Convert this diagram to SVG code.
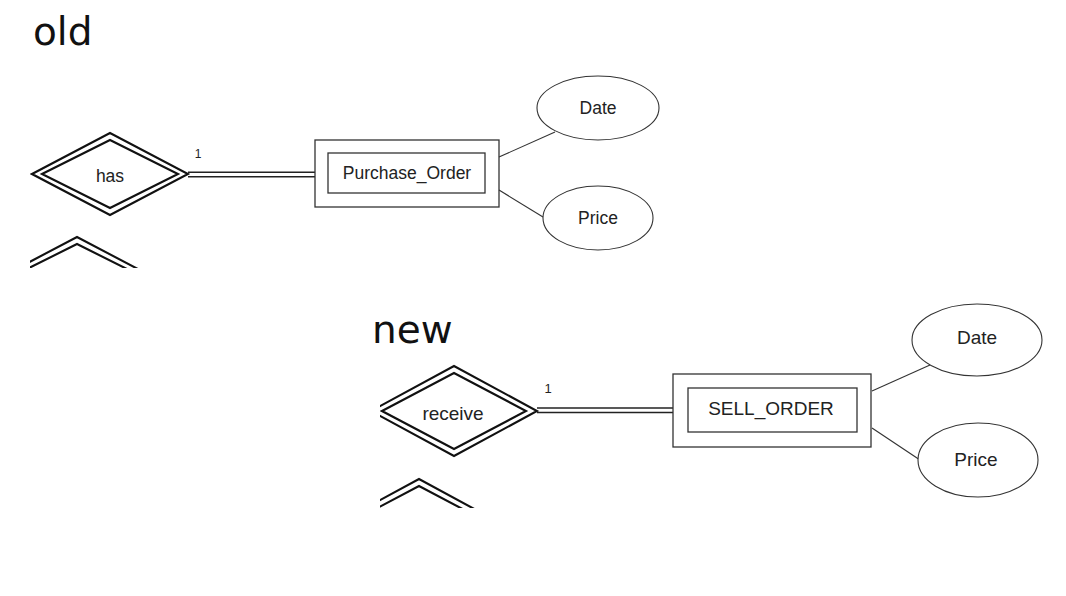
<svg xmlns="http://www.w3.org/2000/svg" width="1066" height="596" viewBox="0 0 1066 596">
<style>
.title{font-family:"DejaVu Sans",Verdana,sans-serif;font-size:39px;fill:#111}
.lbl{font-family:"Liberation Sans",Arial,sans-serif;fill:#222;text-anchor:middle}
.o{font-size:17.5px}
.n{font-size:19px}
.dia{fill:none;stroke:#111;stroke-width:2.1;stroke-linejoin:miter}
.box{fill:none;stroke:#333;stroke-width:1.3}
.ell{fill:#fff;stroke:#333;stroke-width:1.1}
.ln{fill:none;stroke:#333;stroke-width:1.1}
.dl{fill:none;stroke:#222;stroke-width:1.4}
</style>
<defs>
<clipPath id="clipOld"><rect x="30" y="70" width="630" height="198"/></clipPath>
<clipPath id="clipNew"><rect x="380" y="300" width="663" height="208"/></clipPath>
</defs>
<rect width="1066" height="596" fill="#fff"/>
<text class="title" x="33" y="45">old</text>
<text class="title" x="372" y="343">new</text>

<g clip-path="url(#clipOld)">
<g id="connectors-old">
<line class="dl" x1="188" y1="172.3" x2="315" y2="172.3"/>
<line class="dl" x1="188" y1="176.7" x2="315" y2="176.7"/>
<line class="ln" x1="499" y1="157" x2="555" y2="132"/>
<line class="ln" x1="499" y1="190" x2="543" y2="217"/>
<text class="lbl" x="198" y="158" font-size="12">1</text>
</g>
<g id="old-has">
<polygon class="dia" points="32,174 110,133 188,174 110,215"/>
<polygon class="dia" points="42,174 110,140 178,174 110,208"/>
<text class="lbl o" x="110" y="182">has</text>
</g>
<g id="old-rel2">
<polygon class="dia" points="-1,278 77,237 155,278 77,319"/>
<polygon class="dia" points="9,278 77,244 145,278 77,312"/>
</g>
<g id="old-purchase-order">
<rect class="box" x="315" y="140" width="184" height="67"/>
<rect class="box" x="328" y="153" width="157" height="40"/>
<text class="lbl o" x="407" y="179">Purchase_Order</text>
</g>
<g id="old-date">
<ellipse class="ell" cx="598" cy="108" rx="61" ry="32"/>
<text class="lbl o" x="598" y="114">Date</text>
</g>
<g id="old-price">
<ellipse class="ell" cx="598" cy="218" rx="55" ry="32"/>
<text class="lbl o" x="598" y="224">Price</text>
</g>
</g>

<g clip-path="url(#clipNew)">
<g id="connectors-new">
<line class="dl" x1="537" y1="408" x2="673" y2="408"/>
<line class="dl" x1="537" y1="412.5" x2="673" y2="412.5"/>
<line class="ln" x1="872" y1="391" x2="930" y2="365"/>
<line class="ln" x1="872" y1="428" x2="920" y2="460"/>
<text class="lbl" x="548" y="393" font-size="13">1</text>
</g>
<g id="new-receive">
<polygon class="dia" points="371,411 454,366 537,411 454,456"/>
<polygon class="dia" points="382,411 454,373 526,411 454,449"/>
<text class="lbl n" x="453" y="420">receive</text>
</g>
<g id="new-rel2">
<polygon class="dia" points="336,524 419,479 502,524 419,569"/>
<polygon class="dia" points="347,524 419,486 491,524 419,562"/>
</g>
<g id="new-sell-order">
<rect class="box" x="673" y="374" width="198" height="73"/>
<rect class="box" x="688" y="388" width="169" height="44"/>
<text class="lbl n" x="771" y="415">SELL_ORDER</text>
</g>
<g id="new-date">
<ellipse class="ell" cx="977" cy="340" rx="65" ry="36"/>
<text class="lbl n" x="977" y="344">Date</text>
</g>
<g id="new-price">
<ellipse class="ell" cx="978" cy="460" rx="60" ry="37"/>
<text class="lbl n" x="976" y="466">Price</text>
</g>
</g>
</svg>
